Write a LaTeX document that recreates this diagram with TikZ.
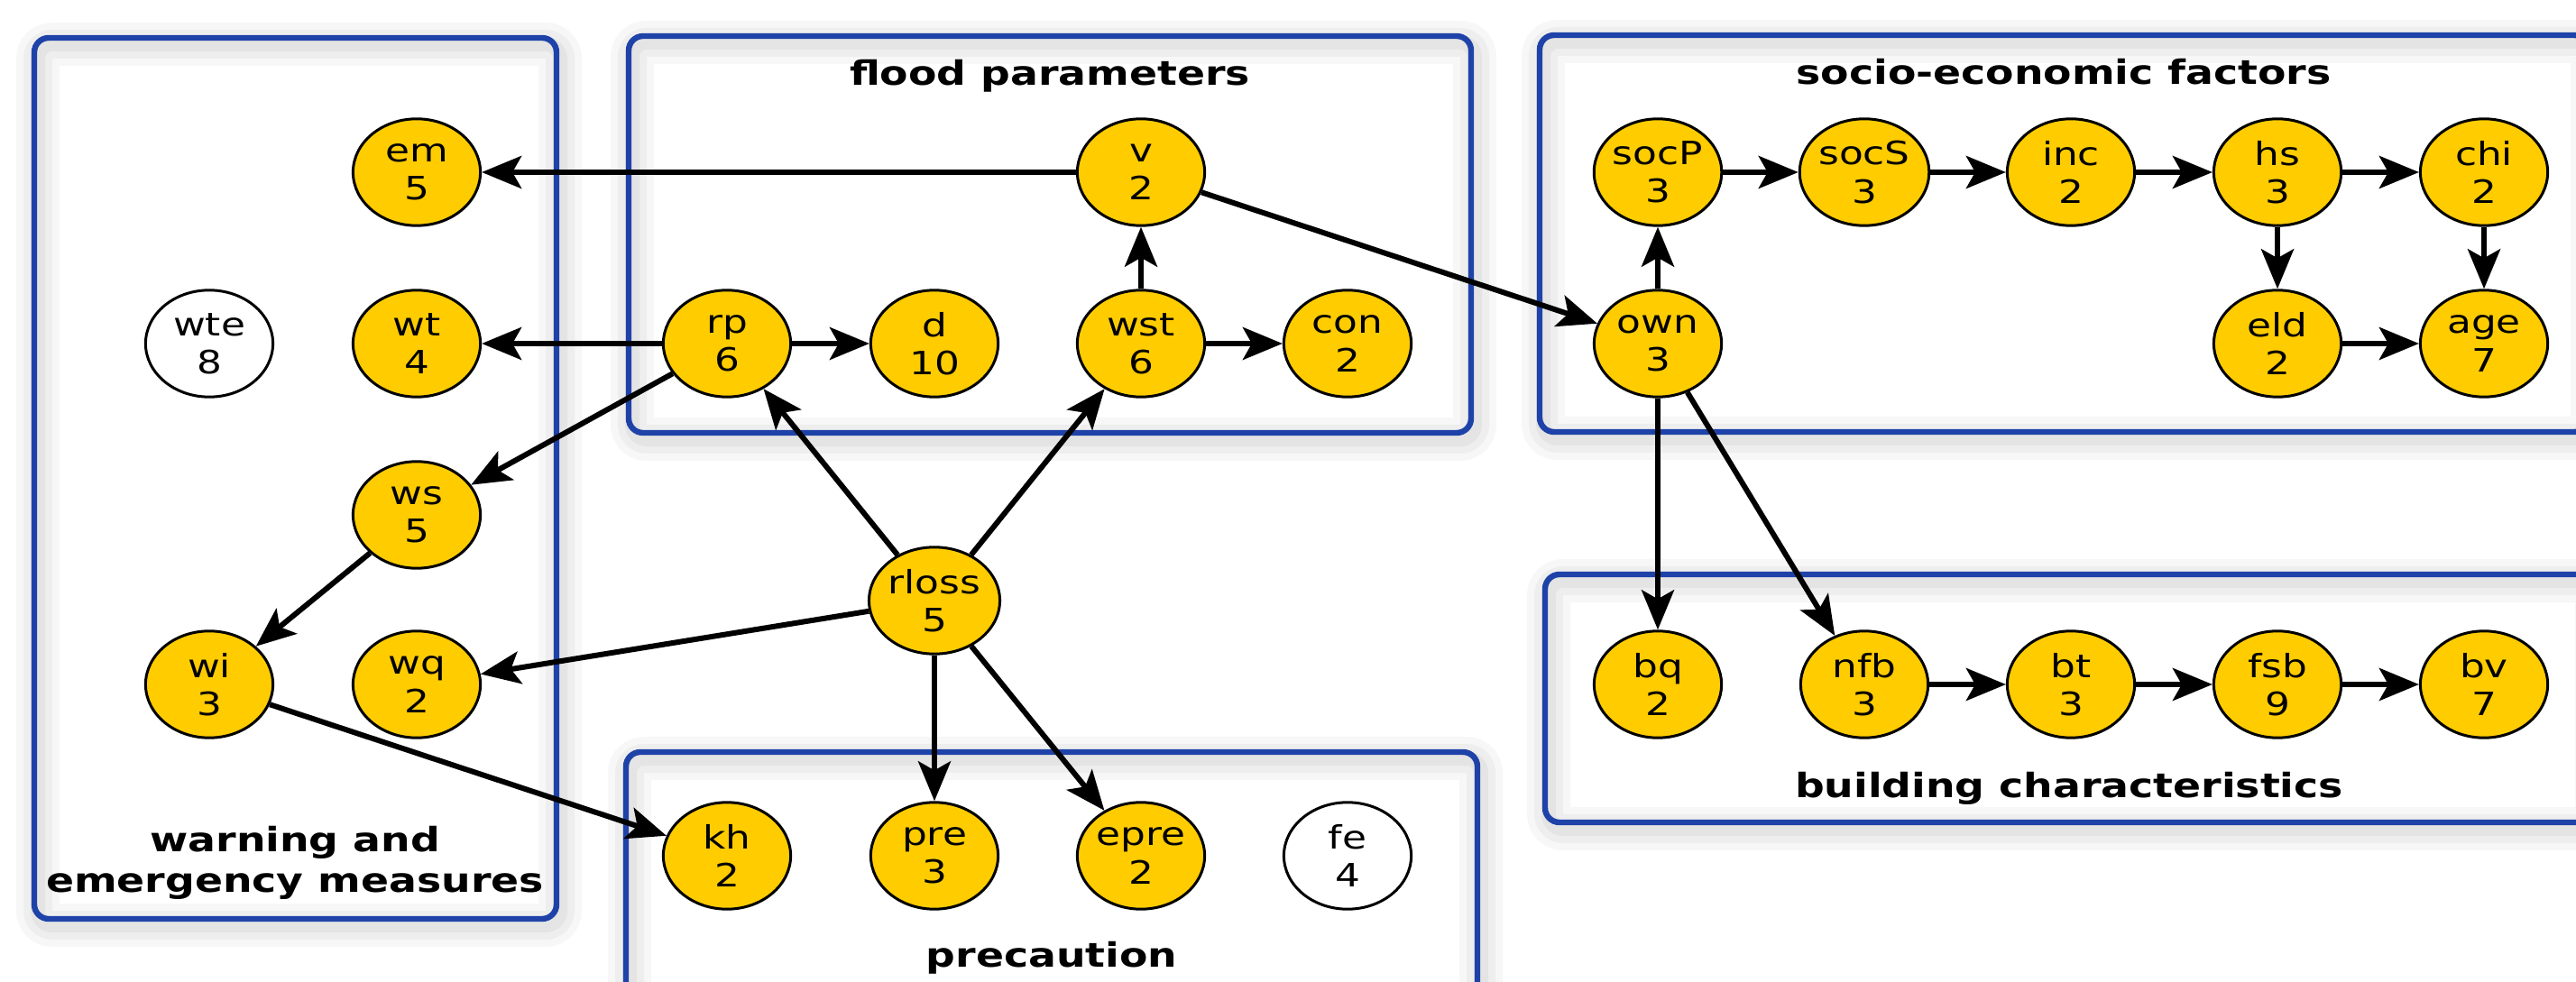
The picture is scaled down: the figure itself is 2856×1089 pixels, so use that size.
\documentclass[tikz,border=0pt]{standalone}
\usepackage{fontspec}
\setmainfont{DejaVu Sans}[FakeStretch=1.23]
\usetikzlibrary{arrows.meta,fit,shapes.geometric}
\definecolor{boxblue}{RGB}{30,66,168}
\definecolor{nodeyellow}{RGB}{255,204,0}
\newcommand{\nodefont}{\fontsize{8.9pt}{10.6pt}\selectfont}
\newcommand{\titlefont}{\fontsize{9.3pt}{11.25pt}\selectfont\bfseries}
\newcommand{\gbox}[5]{%
  \foreach \lw/\op in {12/0.03,8/0.035,4/0.045}{%
    \draw[black, opacity=\op, line width=\lw pt, rounded corners=4pt, shift={(4,7)}] (#2,#3) rectangle (#4,#5);}
  \node[grp, fit={(#2,#3) (#4,#5)}] (#1) {};}
\begin{document}
\begin{tikzpicture}[x=0.25pt,y=-0.25pt,
  var/.style={ellipse, draw=black, line width=0.75pt, fill=nodeyellow,
    minimum width=35.3pt, minimum height=29.6pt, inner sep=0pt, align=center, font=\nodefont},
  obs/.style={var, fill=white},
  link/.style={-{Stealth[length=11pt,width=9pt,inset=2.5pt]}, line width=1.5pt},
  grp/.style={draw=boxblue, line width=1.6pt, rounded corners=4pt, inner sep=0pt, rectangle},
  gtitle/.style={font=\titlefont, align=center, inner sep=0pt}]
\useasboundingbox (0,0) rectangle (2856,1089);
\clip (0,0) rectangle (2856,1089);

% group boxes
\gbox{gwarn}{38}{42}{617}{1019}
\gbox{gflood}{697}{40}{1631}{480}
\gbox{gsocio}{1707}{39}{2870}{479}
\gbox{gbuild}{1713}{637}{2875}{912}
\gbox{gprec}{694}{834}{1638}{1120}

% titles
\node[gtitle] (tflood) at (1164,84)  {flood parameters};
\node[gtitle] (tsocio) at (2288,80)  {socio-economic factors};
\node[gtitle] (tbuild) at (2294,874) {building characteristics};
\node[gtitle] (tprec)  at (1166,1062) {precaution};
\node[gtitle] (twarn)  at (327,957)  {warning and\\emergency measures};

% nodes
\node[var] (em)    at (462,191)  {em\\5};
\node[var] (v)     at (1265,191) {v\\2};
\node[obs] (wte)   at (232,381)  {wte\\8};
\node[var] (wt)    at (462,381)  {wt\\4};
\node[var] (rp)    at (806,381)  {rp\\6};
\node[var] (d)     at (1036,381) {d\\10};
\node[var] (wst)   at (1265,381) {wst\\6};
\node[var] (con)   at (1494,381) {con\\2};
\node[var] (ws)    at (462,571)  {ws\\5};
\node[var] (rloss) at (1036,666) {rloss\\5};
\node[var] (wi)    at (232,759)  {wi\\3};
\node[var] (wq)    at (462,759)  {wq\\2};
\node[var] (kh)    at (806,949)  {kh\\2};
\node[var] (pre)   at (1036,949) {pre\\3};
\node[var] (epre)  at (1265,949) {epre\\2};
\node[obs] (fe)    at (1494,949) {fe\\4};

\node[var] (socP) at (1838,191) {socP\\3};
\node[var] (socS) at (2067,191) {socS\\3};
\node[var] (inc)  at (2296,191) {inc\\2};
\node[var] (hs)   at (2525,191) {hs\\3};
\node[var] (chi)  at (2754,191) {chi\\2};
\node[var] (own)  at (1838,381) {own\\3};
\node[var] (eld)  at (2525,381) {eld\\2};
\node[var] (age)  at (2754,381) {age\\7};
\node[var] (bq)   at (1838,759) {bq\\2};
\node[var] (nfb)  at (2067,759) {nfb\\3};
\node[var] (bt)   at (2296,759) {bt\\3};
\node[var] (fsb)  at (2525,759) {fsb\\9};
\node[var] (bv)   at (2754,759) {bv\\7};

% edges
\draw[link] (v) -- (em);
\draw[link] (v) -- (own);
\draw[link] (rp) -- (wt);
\draw[link] (rp) -- (d);
\draw[link] (rp) -- (ws);
\draw[link] (wst) -- (v);
\draw[link] (wst) -- (con);
\draw[link] (rloss) -- (rp);
\draw[link] (rloss) -- (wst);
\draw[link] (rloss) -- (wq);
\draw[link] (rloss) -- (pre);
\draw[link] (rloss) -- (epre);
\draw[link] (ws) -- (wi);
\draw[link] (wi) -- (kh);
\draw[link] (own) -- (socP);
\draw[link] (socP) -- (socS);
\draw[link] (socS) -- (inc);
\draw[link] (inc) -- (hs);
\draw[link] (hs) -- (chi);
\draw[link] (hs) -- (eld);
\draw[link] (chi) -- (age);
\draw[link] (eld) -- (age);
\draw[link] (own) -- (bq);
\draw[link] (own) -- (nfb);
\draw[link] (nfb) -- (bt);
\draw[link] (bt) -- (fsb);
\draw[link] (fsb) -- (bv);
\end{tikzpicture}
\end{document}
